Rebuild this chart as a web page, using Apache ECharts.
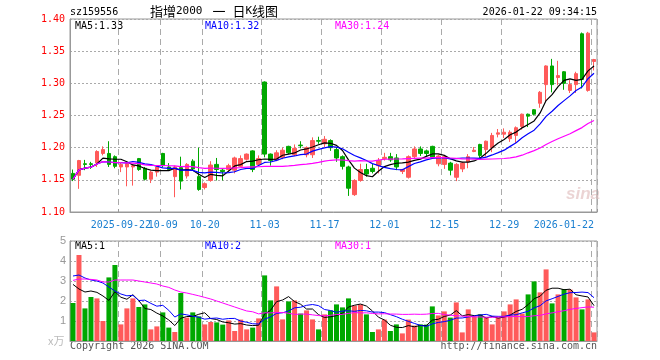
<!DOCTYPE html>
<html>
<head>
<meta charset="utf-8">
<script src="https://cdn.jsdelivr.net/npm/echarts@6.0.0/dist/echarts.min.js"></script>
<style>
html,body{margin:0;padding:0;background:#fff;}
#c{width:660px;height:360px;}
</style>
</head>
<body>
<div id="c"></div>
<script>
// ---- data ----
const dates = [
'2025-09-10','2025-09-11','2025-09-12','2025-09-15','2025-09-16','2025-09-17','2025-09-18','2025-09-19',
'2025-09-22','2025-09-23','2025-09-24','2025-09-25','2025-09-26','2025-09-29','2025-09-30',
'2025-10-09','2025-10-10','2025-10-13','2025-10-14','2025-10-15','2025-10-16','2025-10-17',
'2025-10-20','2025-10-21','2025-10-22','2025-10-23','2025-10-24','2025-10-27','2025-10-28','2025-10-29','2025-10-30','2025-10-31',
'2025-11-03','2025-11-04','2025-11-05','2025-11-06','2025-11-07','2025-11-10','2025-11-11','2025-11-12','2025-11-13','2025-11-14',
'2025-11-17','2025-11-18','2025-11-19','2025-11-20','2025-11-21','2025-11-24','2025-11-25','2025-11-26','2025-11-27','2025-11-28',
'2025-12-01','2025-12-02','2025-12-03','2025-12-04','2025-12-05','2025-12-08','2025-12-09','2025-12-10','2025-12-11','2025-12-12',
'2025-12-15','2025-12-16','2025-12-17','2025-12-18','2025-12-19','2025-12-22','2025-12-23','2025-12-24','2025-12-25','2025-12-26',
'2025-12-29','2025-12-30','2025-12-31','2026-01-05','2026-01-06','2026-01-07','2026-01-08','2026-01-09',
'2026-01-12','2026-01-13','2026-01-14','2026-01-15','2026-01-16','2026-01-19','2026-01-20','2026-01-22'];

const tickDates  = ['2025-09-22','2025-10-09','2025-10-20','2025-11-03','2025-11-17','2025-12-01','2025-12-15','2025-12-29','2026-01-22'];
const tickLabels = ['2025-09-22','10-09','10-20','11-03','11-17','12-01','12-15','12-29','2026-01-22'];

const open = [1.160,1.157,1.175,1.175,1.176,1.191,1.191,1.186,1.170,1.170,
1.170,1.183,1.168,1.151,1.162,1.191,1.170,1.155,1.169,1.156,
1.179,1.155,1.138,1.149,1.174,1.165,1.166,1.165,1.171,1.182,
1.195,1.174,1.302,1.190,1.181,1.185,1.202,1.189,1.204,1.189,
1.189,1.211,1.206,1.211,1.197,1.186,1.170,1.127,1.149,1.166,
1.168,1.172,1.183,1.186,1.184,1.163,1.154,1.186,1.198,1.195,
1.202,1.175,1.174,1.176,1.154,1.167,1.178,1.194,1.205,1.197,
1.200,1.221,1.221,1.214,1.219,1.233,1.252,1.259,1.269,1.298,
1.327,1.309,1.318,1.289,1.298,1.377,1.289,1.334];
const high = [1.166,1.181,1.181,1.178,1.196,1.202,1.210,1.188,1.176,1.177,
1.174,1.184,1.170,1.164,1.172,1.192,1.176,1.172,1.186,1.176,
1.182,1.200,1.146,1.179,1.184,1.167,1.175,1.186,1.188,1.191,
1.196,1.188,1.303,1.191,1.196,1.200,1.203,1.205,1.210,1.202,
1.216,1.217,1.218,1.213,1.201,1.188,1.172,1.151,1.175,1.175,
1.175,1.184,1.192,1.192,1.190,1.167,1.188,1.202,1.202,1.197,
1.203,1.189,1.188,1.178,1.176,1.178,1.190,1.201,1.206,1.211,
1.223,1.229,1.230,1.227,1.233,1.253,1.253,1.260,1.288,1.328,
1.338,1.335,1.319,1.305,1.318,1.379,1.380,1.338];
const low = [1.148,1.136,1.165,1.167,1.170,1.188,1.170,1.168,1.162,1.140,
1.141,1.164,1.149,1.145,1.155,1.170,1.164,1.123,1.135,1.152,
1.165,1.133,1.135,1.147,1.149,1.149,1.163,1.160,1.170,1.180,
1.162,1.172,1.185,1.172,1.179,1.182,1.190,1.187,1.199,1.185,
1.184,1.206,1.201,1.195,1.178,1.166,1.125,1.125,1.147,1.155,
1.160,1.160,1.180,1.178,1.165,1.159,1.152,1.184,1.187,1.187,
1.183,1.171,1.167,1.157,1.148,1.162,1.168,1.193,1.184,1.186,
1.193,1.216,1.215,1.209,1.207,1.228,1.232,1.250,1.262,1.271,
1.286,1.297,1.290,1.285,1.285,1.292,1.287,1.320];
const close = [1.151,1.180,1.174,1.174,1.194,1.197,1.174,1.171,1.174,1.175,
1.172,1.166,1.151,1.162,1.170,1.172,1.166,1.170,1.148,1.174,
1.167,1.135,1.144,1.173,1.166,1.163,1.172,1.184,1.183,1.190,
1.166,1.183,1.190,1.180,1.192,1.196,1.192,1.199,1.203,1.200,
1.211,1.210,1.213,1.200,1.184,1.171,1.137,1.149,1.166,1.159,
1.163,1.180,1.185,1.181,1.170,1.166,1.186,1.198,1.191,1.191,
1.185,1.187,1.186,1.165,1.174,1.176,1.186,1.196,1.188,1.210,
1.219,1.223,1.224,1.224,1.231,1.252,1.249,1.252,1.286,1.327,
1.298,1.312,1.300,1.298,1.315,1.306,1.378,1.337];
const volume = [1.90,4.30,1.63,2.20,2.13,1.00,3.18,3.80,0.83,1.63,
2.13,1.70,1.83,0.58,0.73,1.43,0.67,0.45,2.40,1.17,
1.43,1.23,0.83,0.95,0.93,0.82,1.03,0.50,1.07,0.58,
0.67,1.13,3.28,2.03,2.73,1.08,1.98,2.03,1.37,1.53,
1.08,0.58,1.33,1.53,1.83,1.68,2.13,1.77,1.83,1.33,
0.45,0.58,1.07,0.50,0.83,0.38,1.07,0.77,0.83,0.82,
1.73,1.28,1.48,1.17,1.93,0.43,1.58,1.23,1.33,1.17,
0.83,1.17,1.48,1.83,2.08,1.37,2.33,2.98,2.43,3.58,
1.88,2.33,2.60,2.57,2.18,1.58,2.08,0.43];

// volume MA values for the first days, whose window reaches before the shown data
const volMa5Head  = [2.83, 2.60, 2.45, 2.50];
const volMa10Head = [3.25, 3.30, 3.15, 3.05, 3.00, 2.90, 2.70, 2.50, 2.35];
const volMa30Head = [3.03, 3.10, 3.10, 3.08, 3.05, 2.95, 2.95, 3.05, 3.05, 3.05,
                     3.05, 3.00, 2.95, 2.90, 2.85, 2.75, 2.68, 2.55, 2.45, 2.40,
                     2.33, 2.26, 2.18, 2.10, 2.00, 1.90, 1.80, 1.70, 1.60];

const UP = '#ff5a5a', DOWN = '#00a800';

// moving average; where the window is incomplete use the given head values (or the available window)
function movingAvg(arr, n, head) {
  return arr.map(function (_, i) {
    if (i < n - 1 && head && head[i] !== undefined) return head[i];
    const s = Math.max(0, i - n + 1);
    let sum = 0;
    for (let j = s; j <= i; j++) sum += arr[j];
    return +(sum / (i - s + 1)).toFixed(4);
  });
}
const ma5 = movingAvg(close, 5), ma10 = movingAvg(close, 10), ma30 = movingAvg(close, 30);
const vma5 = movingAvg(volume, 5, volMa5Head), vma10 = movingAvg(volume, 10, volMa10Head), vma30 = movingAvg(volume, 30, volMa30Head);
const last = close.length - 1;

const tickIdx = tickDates.map(function (d) { return dates.indexOf(d); });
const isTick = function (i) { return tickIdx.indexOf(i) >= 0; };
const isLabelMain = function (i) { return i !== tickIdx[0] && tickIdx.indexOf(i) >= 0; };
const isLabelFirst = function (i) { return i === tickIdx[0]; };
const labelOf = function (v) { const k = tickDates.indexOf(v); return k >= 0 ? tickLabels[k] : ''; };

const MONO = 'DejaVu Sans Mono';
const chart = echarts.init(document.getElementById('c'), null, {renderer: 'canvas'});

const grid = {show: true, borderColor: '#999', borderWidth: 1, backgroundColor: 'transparent'};
const vSplit = {show: true, interval: isTick, lineStyle: {color: '#aaa', width: 1, type: [6, 4]}};
const hSplit = {show: true, lineStyle: {color: '#aaa', width: 1, type: [2, 2]}};
const xLabelStyle = {color: '#1a7fd0', fontFamily: MONO, fontSize: 10, margin: 8, hideOverlap: false, formatter: labelOf};

chart.setOption({
  animation: false,
  backgroundColor: '#fff',
  grid: [
    Object.assign({left: 70, top: 19, width: 527, height: 193}, grid),
    Object.assign({left: 70, top: 241, width: 527, height: 100}, grid)
  ],
  xAxis: [
    {type: 'category', gridIndex: 0, data: dates, boundaryGap: true, position: 'bottom',
     axisLine: {show: true, lineStyle: {color: '#999'}},
     axisTick: {show: true, inside: true, length: 3, interval: isTick, lineStyle: {color: '#999'}},
     axisLabel: Object.assign({show: true, interval: isLabelMain, alignMaxLabel: 'right'}, xLabelStyle),
     splitLine: vSplit},
    {type: 'category', gridIndex: 1, data: dates, boundaryGap: true,
     axisLine: {show: true, lineStyle: {color: '#999'}},
     axisTick: {show: false}, axisLabel: {show: false},
     splitLine: vSplit},
    {type: 'category', gridIndex: 0, data: dates, boundaryGap: true, position: 'bottom', offset: 0,
     axisLine: {show: false}, axisTick: {show: false}, splitLine: {show: false},
     axisLabel: Object.assign({show: true, interval: isLabelFirst}, xLabelStyle)}
  ],
  yAxis: [
    {type: 'value', gridIndex: 0, min: 1.10, max: 1.40, interval: 0.05,
     axisLine: {show: true, lineStyle: {color: '#999'}}, axisTick: {show: false},
     axisLabel: {color: '#ff0000', fontFamily: MONO, fontSize: 10, margin: 5,
       formatter: function (v) { return v.toFixed(2); }},
     splitLine: hSplit},
    {type: 'value', gridIndex: 1, min: 0, max: 5, interval: 1,
     axisLine: {show: true, lineStyle: {color: '#999'}}, axisTick: {show: false},
     axisLabel: {color: '#999', fontFamily: 'Liberation Sans', fontSize: 11, margin: 4,
       formatter: function (v) { return v === 0 ? '' : String(v); }},
     splitLine: hSplit}
  ],
  series: [
    {type: 'candlestick', xAxisIndex: 0, yAxisIndex: 0, barWidth: 4,
     data: open.map(function (o, i) { return [o, close[i], low[i], high[i]]; }),
     itemStyle: {color: UP, color0: DOWN, borderColor: UP, borderColor0: DOWN, borderColorDoji: UP, borderWidth: 1}},
    {type: 'line', xAxisIndex: 0, yAxisIndex: 0, data: ma5, symbol: 'none', silent: true, lineStyle: {color: '#000', width: 1.2}},
    {type: 'line', xAxisIndex: 0, yAxisIndex: 0, data: ma10, symbol: 'none', silent: true, lineStyle: {color: '#0000ff', width: 1.2}},
    {type: 'line', xAxisIndex: 0, yAxisIndex: 0, data: ma30, symbol: 'none', silent: true, lineStyle: {color: '#ff00ff', width: 1.2}},
    {type: 'bar', xAxisIndex: 1, yAxisIndex: 1, barWidth: 5,
     data: volume.map(function (v, i) { return {value: v, itemStyle: {color: close[i] >= open[i] ? UP : DOWN}}; })},
    {type: 'line', xAxisIndex: 1, yAxisIndex: 1, data: vma5, symbol: 'none', silent: true, lineStyle: {color: '#000', width: 1}},
    {type: 'line', xAxisIndex: 1, yAxisIndex: 1, data: vma10, symbol: 'none', silent: true, lineStyle: {color: '#0000ff', width: 1}},
    {type: 'line', xAxisIndex: 1, yAxisIndex: 1, data: vma30, symbol: 'none', silent: true, lineStyle: {color: '#ff00ff', width: 1}}
  ],
  graphic: [
    {type: 'text', left: 70, top: 7, style: {text: 'sz159556', fill: '#000', font: '10px ' + MONO}},
    {type: 'text', left: 150, top: 5, style: {
      text: '{c|指增}{n|2000}{s| }{c|一}{t| }{c|日}{n|K}{c|线图}',
      rich: {c: {font: '13px "Noto Sans CJK SC"', fill: '#000'},
             n: {font: '11px ' + MONO, fill: '#000'},
             s: {font: '11px ' + MONO, width: 10},
             t: {font: '11px ' + MONO, width: 7}}}},
    {type: 'text', right: 63, top: 7, style: {text: '2026-01-22 09:34:15', fill: '#000', font: '10px ' + MONO}},
    {type: 'text', left: 75, top: 21, style: {text: 'MA5:' + ma5[last].toFixed(2), fill: '#000', font: '10px ' + MONO}},
    {type: 'text', left: 205, top: 21, style: {text: 'MA10:' + ma10[last].toFixed(2), fill: '#0000ff', font: '10px ' + MONO}},
    {type: 'text', left: 335, top: 21, style: {text: 'MA30:' + ma30[last].toFixed(2), fill: '#ff00ff', font: '10px ' + MONO}},
    {type: 'text', left: 75, top: 241, style: {text: 'MA5:' + Math.floor(vma5[last]), fill: '#000', font: '10px ' + MONO}},
    {type: 'text', left: 205, top: 241, style: {text: 'MA10:' + Math.floor(vma10[last]), fill: '#0000ff', font: '10px ' + MONO}},
    {type: 'text', left: 335, top: 241, style: {text: 'MA30:' + Math.floor(vma30[last]), fill: '#ff00ff', font: '10px ' + MONO}},
    {type: 'text', left: 48, top: 335, style: {text: 'x万', fill: '#bbb', font: '11px "Noto Sans CJK SC"'}},
    {type: 'text', left: 70, top: 341, style: {text: 'Copyright 2026 SINA.COM', fill: '#555', font: '10px ' + MONO}},
    {type: 'text', right: 63, top: 341, style: {text: 'http://finance.sina.com.cn', fill: '#555', font: '10px ' + MONO}},
    {type: 'text', left: 566, top: 186, style: {text: 'sina', fill: 'rgba(210,160,160,0.45)', font: 'italic bold 17px "Liberation Sans"'}}
  ]
});
</script>
</body>
</html>
